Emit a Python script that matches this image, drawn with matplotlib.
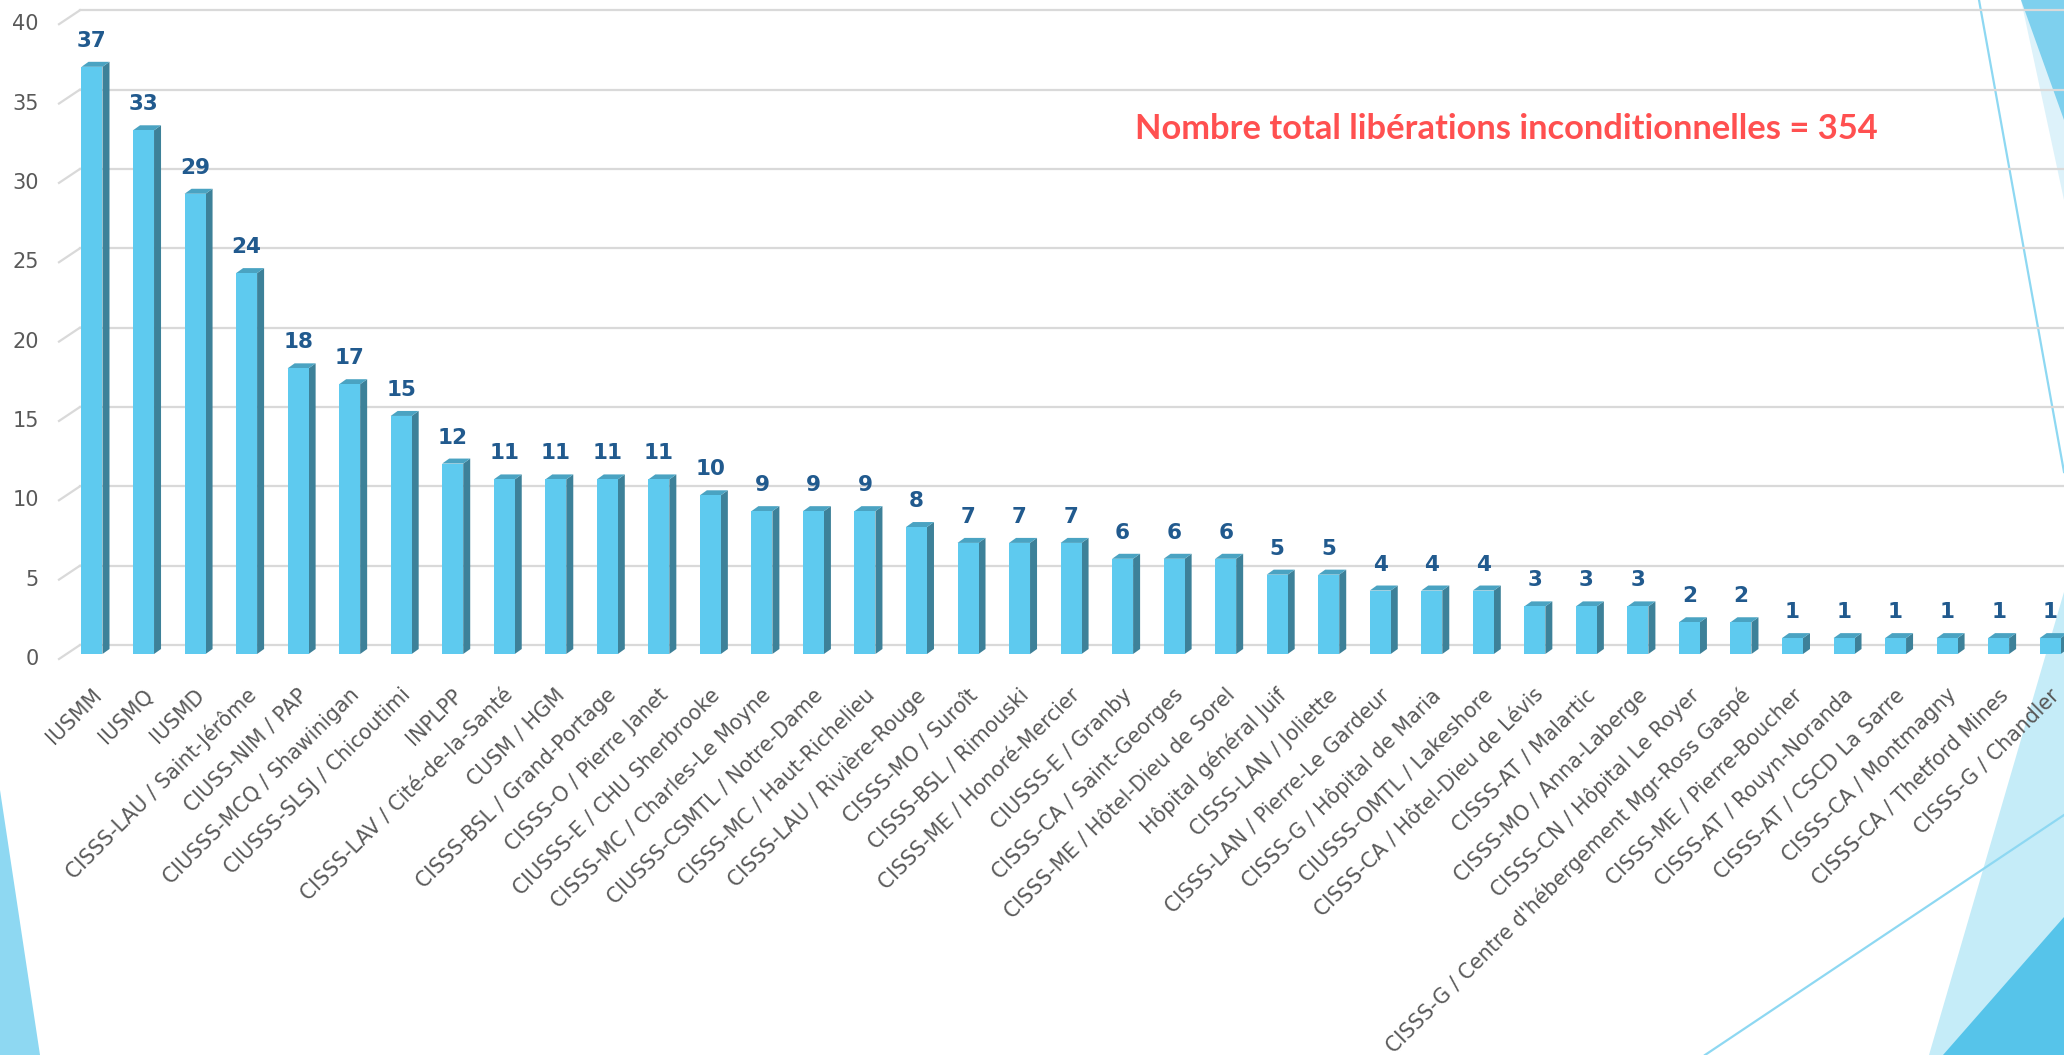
import matplotlib
matplotlib.use("Agg")
import matplotlib.pyplot as plt
from matplotlib.patches import Polygon

categories = [
    "IUSMM", "IUSMQ", "IUSMD", "CISSS-LAU / Saint-Jérôme", "CIUSS-NIM / PAP",
    "CIUSSS-MCQ / Shawinigan", "CIUSSS-SLSJ / Chicoutimi", "INPLPP",
    "CISSS-LAV / Cité-de-la-Santé", "CUSM / HGM", "CISSS-BSL / Grand-Portage",
    "CISSS-O / Pierre Janet", "CIUSSS-E / CHU Sherbrooke", "CISSS-MC / Charles-Le Moyne",
    "CIUSSS-CSMTL / Notre-Dame", "CISSS-MC / Haut-Richelieu", "CISSS-LAU / Rivière-Rouge",
    "CISSS-MO / Suroît", "CISSS-BSL / Rimouski", "CISSS-ME / Honoré-Mercier",
    "CIUSSS-E / Granby", "CISSS-CA / Saint-Georges", "CISSS-ME / Hôtel-Dieu de Sorel",
    "Hôpital général Juif", "CISSS-LAN / Joliette", "CISSS-LAN / Pierre-Le Gardeur",
    "CISSS-G / Hôpital de Maria", "CIUSSS-OMTL / Lakeshore", "CISSS-CA / Hôtel-Dieu de Lévis",
    "CISSS-AT / Malartic", "CISSS-MO / Anna-Laberge", "CISSS-CN / Hôpital Le Royer",
    "CISSS-G / Centre d'hébergement Mgr-Ross Gaspé", "CISSS-ME / Pierre-Boucher",
    "CISSS-AT / Rouyn-Noranda", "CISSS-AT / CSCD La Sarre", "CISSS-CA / Montmagny",
    "CISSS-CA / Thetford Mines", "CISSS-G / Chandler",
]
values = [37, 33, 29, 24, 18, 17, 15, 12, 11, 11, 11, 11, 10, 9, 9, 9, 8, 7, 7, 7,
          6, 6, 6, 5, 5, 4, 4, 4, 3, 3, 3, 2, 2, 1, 1, 1, 1, 1, 1]
yticks = [0, 5, 10, 15, 20, 25, 30, 35, 40]
total_text = "Nombre total libérations inconditionnelles = 354"

W, H = 2064, 1055
# pixel layout of the fake 3d chart
X0, PXU = 92, 51.53      # first bar centre, px per category
Y0, PYU = 654, 15.87     # front baseline, px per unit
BACK = 9 / PYU           # back wall sits a bit higher than the bar fronts
BW = 21 / PXU            # front face width
DX, DY = 7 / PXU, 5 / PYU  # depth of the side/top faces

FRONT = "#5ECAEF"
SIDE = "#3D8199"
TOP = "#4AA3C2"
GRID = "#D9D9D9"
DEC = "#8ED8F2"

fig = plt.figure(figsize=(W / 100, H / 100), dpi=100)

# slide decorations (background)
bg = fig.add_axes([0, 0, 1, 1], zorder=0)
bg.set_xlim(0, W)
bg.set_ylim(H, 0)
bg.axis("off")
bg.add_patch(Polygon([(0, 790), (40, H), (0, H)], color=DEC, lw=0))
bg.add_patch(Polygon([(2021, 0), (W, 0), (W, 200)], color="#DDF2FA", lw=0))
bg.add_patch(Polygon([(2021, 0), (W, 0), (W, 120)], color="#7ED0EE", lw=0))
bg.add_patch(Polygon([(W, 592), (1929, H), (W, H)], color="#C5ECF8", lw=0))
bg.add_patch(Polygon([(1943, H), (W, 917), (W, H)], color="#56C4EA", lw=0))
bg.plot([1979, W], [0, 472], color=DEC, lw=1.6)
bg.plot([1705, W], [H, 815], color=DEC, lw=1.6)

ax = fig.add_axes([0, 0, 1, 1], zorder=1)
ax.patch.set_alpha(0)
ax.set_xlim(-X0 / PXU, (W - X0) / PXU)
ax.set_ylim((Y0 - H) / PYU, Y0 / PYU)
ax.axis("off")

# gridlines: slanted piece on the left wall + line on the back wall
xl, xw = (59 - X0) / PXU, (80 - X0) / PXU
for t in yticks:
    ax.plot([xl, xw], [t - 5 / PYU, t + BACK], color=GRID, lw=1.6, zorder=1)
    ax.plot([xw, 40], [t + BACK, t + BACK], color=GRID, lw=1.6, zorder=1)
    ax.text((39 - X0) / PXU, t - 5 / PYU, str(t), ha="right", va="center",
            fontsize=15, color="#595959")

for i, v in enumerate(values):
    l, r = i - BW / 2, i + BW / 2
    ax.add_patch(Polygon([(r, 0), (r + DX, DY), (r + DX, v + DY), (r, v)],
                         color=SIDE, lw=0, zorder=2))
    ax.add_patch(Polygon([(l, v), (r, v), (r + DX, v + DY), (l + DX, v + DY)],
                         color=TOP, lw=0, zorder=2))
    ax.add_patch(Polygon([(l, 0), (r, 0), (r, v), (l, v)],
                         color=FRONT, lw=0, zorder=3))
    ax.text(i, v + 26 / PYU, str(v), ha="center", va="center", fontsize=15.5,
            fontweight="bold", color="#215A8E", zorder=4)
    ax.text(i + 0.12, -38 / PYU, categories[i], rotation=45, rotation_mode="anchor",
            ha="right", va="center", fontsize=14.8, color="#595959", zorder=4)

# red total, scaled to the width it has in the slide
t = fig.text(1506 / W, 1 - 129 / H, total_text, ha="center", va="center",
             fontsize=30, fontweight="bold", color="#FF5050", family="Lato", zorder=5)
fig.canvas.draw()
w = t.get_window_extent().width
t.set_fontsize(30 * 743 / w)

fig.savefig("out.png", dpi=100)
